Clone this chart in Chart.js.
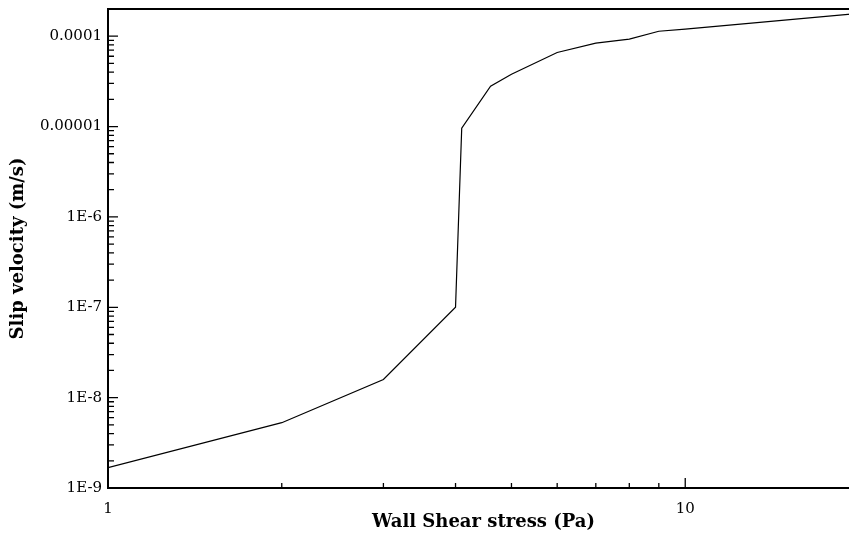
<!DOCTYPE html>
<html><head><meta charset="utf-8">
<script src="https://cdn.jsdelivr.net/npm/chart.js@4"></script>
<style>
html,body{margin:0;padding:0;overflow:hidden;background:#fff;width:849px;height:540px}
#wrap{width:860px;height:540px}
</style></head>
<body><div id="wrap"><canvas id="c" width="860" height="540"></canvas></div>
<script>
// Data
const shearStress  = [1, 2, 3, 4, 4.1, 4.6, 5, 6, 7, 8, 9, 10, 20];
const slipVelocity = [1.68e-9, 5.28e-9, 1.59e-8, 1.0e-7, 9.6e-6, 2.8e-5, 3.8e-5, 6.6e-5, 8.4e-5, 9.3e-5, 1.135e-4, 1.2e-4, 1.79e-4];

const xTickValues = [1, 10];
const xTickLabels = ['1', '10'];
const yTickValues = [1e-9, 1e-8, 1e-7, 1e-6, 1e-5, 1e-4];
const yTickLabels = ['1E-9', '1E-8', '1E-7', '1E-6', '0.00001', '0.0001'];
const minorMultipliers = [2, 3, 4, 5, 6, 7, 8, 9];

const FONT = 'DejaVu Serif';

function labelFor(values, labels) {
  return v => { const i = values.findIndex(t => Math.abs(t - v) / t < 1e-6); return i >= 0 ? labels[i] : ''; };
}

const framePlugin = {
  id: 'frame',
  afterDatasetsDraw(chart) {
    const {ctx, chartArea: a, scales: {x, y}} = chart;
    ctx.save();
    ctx.strokeStyle = '#000';
    // ticks (inward)
    ctx.lineWidth = 1.3;
    ctx.beginPath();
    xTickValues.forEach(d => {
      minorMultipliers.forEach(m => {
        const v = d * m;
        if (v > x.min && v < x.max) { const px = x.getPixelForValue(v); ctx.moveTo(px, a.bottom); ctx.lineTo(px, a.bottom - 5); }
      });
      if (d > x.min && d < x.max) { const px = x.getPixelForValue(d); ctx.moveTo(px, a.bottom); ctx.lineTo(px, a.bottom - 10); }
    });
    yTickValues.forEach(d => {
      minorMultipliers.forEach(m => {
        const v = d * m;
        if (v > y.min && v < y.max) { const py = y.getPixelForValue(v); ctx.moveTo(a.left, py); ctx.lineTo(a.left + 6, py); }
      });
      if (d > y.min && d < y.max) { const py = y.getPixelForValue(d); ctx.moveTo(a.left, py); ctx.lineTo(a.left + 10, py); }
    });
    ctx.stroke();
    // frame
    ctx.lineWidth = 2;
    ctx.beginPath();
    ctx.moveTo(a.right, a.top); ctx.lineTo(a.left, a.top); ctx.lineTo(a.left, a.bottom); ctx.lineTo(a.right, a.bottom);
    ctx.stroke();
    ctx.restore();
  }
};

new Chart(document.getElementById('c'), {
  type: 'line',
  data: {
    datasets: [{
      data: shearStress.map((s, i) => ({x: s, y: slipVelocity[i]})),
      borderColor: '#000', borderWidth: 1.2, pointRadius: 0, tension: 0, fill: false
    }]
  },
  options: {
    responsive: false, animation: false, devicePixelRatio: 1,
    layout: {padding: {top: 9, right: 1, left: 0, bottom: 0}},
    plugins: {legend: {display: false}, tooltip: {enabled: false}},
    scales: {
      x: {
        type: 'logarithmic', min: 1, max: 20,
        afterBuildTicks: s => { s.ticks = xTickValues.map(v => ({value: v})); },
        afterFit: s => { s.height = 52; s.paddingLeft = 0; s.paddingRight = 0; },
        grid: {display: false, drawTicks: false},
        border: {display: false},
        ticks: {callback: labelFor(xTickValues, xTickLabels), autoSkip: false, maxRotation: 0,
                font: {family: FONT, size: 15}, color: '#000', padding: 12},
        title: {display: true, text: 'Wall Shear stress (Pa)', color: '#000',
                font: {family: FONT, size: 18, weight: 'bold'}, padding: {top: 0, bottom: 7}}
      },
      y: {
        type: 'logarithmic', min: 1e-9, max: 2e-4,
        afterBuildTicks: s => { s.ticks = yTickValues.map(v => ({value: v})); },
        afterFit: s => { s.width = 108; s.paddingTop = 0; s.paddingBottom = 0; },
        grid: {display: false, drawTicks: false},
        border: {display: false},
        ticks: {callback: labelFor(yTickValues, yTickLabels), autoSkip: false,
                font: {family: FONT, size: 15}, color: '#000', padding: 6},
        title: {display: true, text: 'Slip velocity (m/s)', color: '#000',
                font: {family: FONT, size: 18, weight: 'bold'}, padding: {top: 8, bottom: 0}}
      }
    }
  },
  plugins: [framePlugin]
});
</script>
</body></html>
